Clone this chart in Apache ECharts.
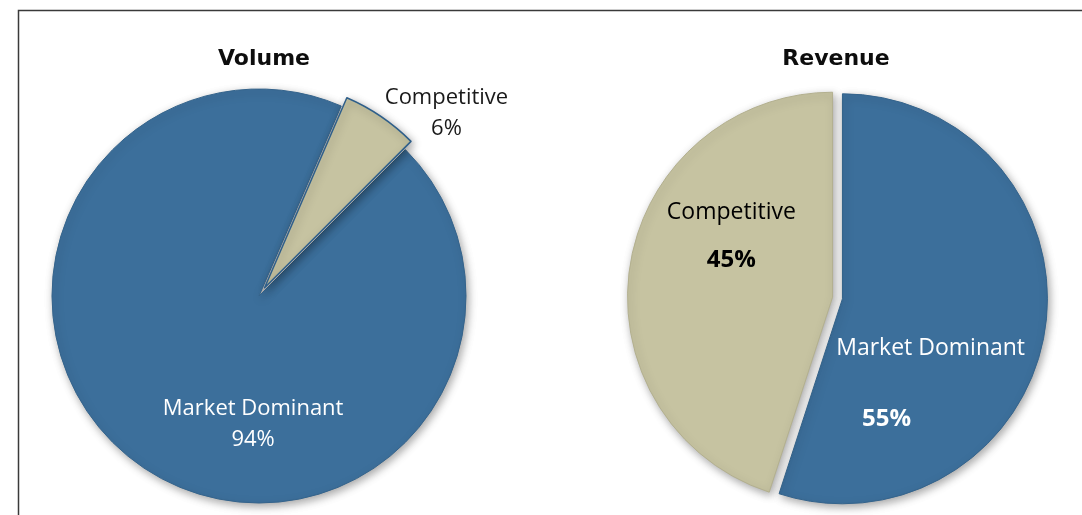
<!DOCTYPE html>
<html>
<head>
<meta charset="utf-8">
<script src="https://cdn.jsdelivr.net/npm/echarts@6/dist/echarts.min.js"></script>
<style>
  html, body { margin: 0; padding: 0; background: #fff; }
  #chart { width: 1082px; height: 515px; }
</style>
</head>
<body>
<div id="chart"></div>
<script>
// ---- data ----
const categories = ['Market Dominant', 'Competitive'];
const volumeValues = [94, 6];
const revenueValues = [55, 45];
const chartTitles = ['Volume', 'Revenue'];

// ---- styles ----
const BLUE = '#3C6F9B';
const TAN = '#C6C3A1';
const FONT = '"Open Sans", sans-serif';

// label offsets relative to ECharts' inside position [series][dataIndex]
const labelOffsets = [
  [[54, 41], [122, -86]],
  [[-16, 89], [3, -36]]
];

const labelStyles = [
  [ // Volume
    { color: '#ffffff', size: 22, pSize: 22, nLh: 30, pLh: 32, bold: false, pPad: [0, 0, 0, 0] },
    { color: '#1a1a1a', size: 22, pSize: 22, nLh: 30, pLh: 32, bold: false, pPad: [0, 0, 0, 0] }
  ],
  [ // Revenue
    { color: '#ffffff', size: 23, pSize: 24, nLh: 30, pLh: 112, bold: true, pPad: [0, 88, 0, 0] },
    { color: '#000000', size: 23, pSize: 24, nLh: 30, pLh: 64, bold: true, pPad: [0, 0, 0, 0] }
  ]
];

const colors = [BLUE, TAN];

function buildData(values, sIdx, selectedFlags, borderColors, borderWidths) {
  return categories.map((name, i) => {
    const st = labelStyles[sIdx][i];
    return {
      name: name,
      value: values[i],
      selected: selectedFlags[i],
      itemStyle: { color: colors[i], borderColor: borderColors[i], borderWidth: borderWidths[i] },
      label: {
        formatter: '{n|{b}}\n{p|{c}%}',
        rich: {
          n: { fontFamily: FONT, fontSize: st.size, color: st.color, lineHeight: st.nLh },
          p: { fontFamily: FONT, fontSize: st.pSize, color: st.color, lineHeight: st.pLh,
               fontWeight: st.bold ? 'bold' : 'normal', padding: st.pPad }
        }
      }
    };
  });
}

function pieSeries(values, sIdx, center, radius, startAngle, offset, selectedFlags, borderColors, borderWidths) {
  return {
    type: 'pie',
    center: center,
    radius: radius,
    startAngle: startAngle,
    clockwise: true,
    selectedMode: 'multiple',
    selectedOffset: offset,
    animation: false,
    silent: true,
    label: { show: true, position: 'inside' },
    labelLine: { show: false },
    labelLayout: function (p) {
      const o = labelOffsets[sIdx][p.dataIndex];
      return { dx: o[0], dy: o[1] };
    },
    itemStyle: {
      shadowBlur: 8,
      shadowOffsetX: 2,
      shadowOffsetY: 3,
      shadowColor: 'rgba(0,0,0,0.35)'
    },
    emphasis: { disabled: true },
    data: buildData(values, sIdx, selectedFlags, borderColors, borderWidths)
  };
}

const chart = echarts.init(document.getElementById('chart'), null, { renderer: 'canvas' });
chart.setOption({
  backgroundColor: '#ffffff',
  animation: false,
  title: [
    { text: chartTitles[0], left: 259, top: 43, textAlign: 'center',
      textStyle: { fontFamily: '"DejaVu Sans", sans-serif', fontSize: 22, fontWeight: 'bold', color: '#0d0d0d' } },
    { text: chartTitles[1], left: 831, top: 43, textAlign: 'center',
      textStyle: { fontFamily: '"DejaVu Sans", sans-serif', fontSize: 22, fontWeight: 'bold', color: '#0d0d0d' } }
  ],
  graphic: [
    { type: 'rect', shape: { x: 18.5, y: 10.5, width: 1200, height: 600 },
      style: { fill: 'none', stroke: '#3a3a3a', lineWidth: 1.5 }, silent: true }
  ],
  series: [
    pieSeries(volumeValues, 0, [259, 296], 207, 45, 10, [false, true], ['#35648c', '#2f5f8a'], [1, 1.5]),
    pieSeries(revenueValues, 1, [837.5, 298], 205, 90, 5, [true, true], ['#35648c', '#b3b08f'], [1, 1])
  ]
});
</script>
</body>
</html>
